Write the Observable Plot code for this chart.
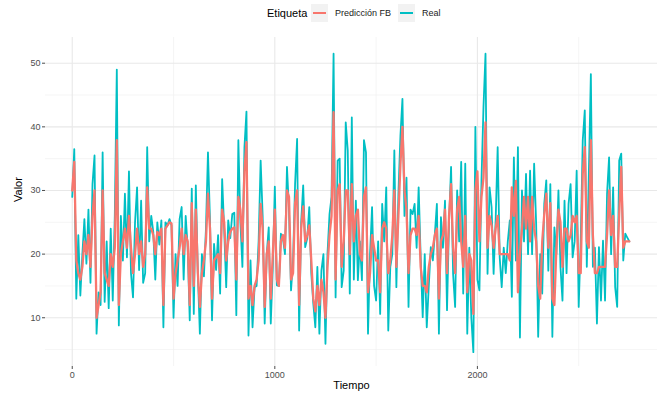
<!DOCTYPE html>
<html><head><meta charset="utf-8">
<script src="https://cdn.jsdelivr.net/npm/d3@7"></script>
<script src="https://cdn.jsdelivr.net/npm/@observablehq/plot@0.6"></script>
<style>
body{margin:0;background:#fff;font-family:"Liberation Sans",Arial,sans-serif;}
#legend{position:relative;height:26px;width:665px;}
#legend .t{position:absolute;top:0;height:26px;line-height:26px;white-space:nowrap;}
#legend .key{position:absolute;top:4px;width:17px;height:18px;background:#f2f2f2;}
#legend .key i{position:absolute;left:2px;top:8px;width:13px;height:1.6px;}
</style></head><body>
<div id="legend"></div>
<div id="chart"></div>
<script>
const series = ["Predicción FB", "Real"];
const colores = ["#F8766D", "#00BFC4"];
const ticksX = [0, 1000, 2000];
const minorX = [500, 1500, 2500];
const ticksY = [10, 20, 30, 40, 50];
const minorY = [5, 15, 25, 35, 45];
const paso = 10;
const tiempo = d3.range(0, 2751, paso);

const valorReal = [
29, 36.5, 13, 23, 13.5, 20, 25.5, 18.5, 27, 15.5,
31, 35.5, 7.5, 14, 12, 36, 12.5, 22, 11.5, 24,
12.7, 26, 49, 8.8, 26, 19, 29.5, 19.5, 33, 17,
13.2, 25, 30.5, 17.5, 28.4, 15.5, 17, 36.8, 22, 26,
23.5, 16, 25, 21.5, 25.3, 8.5, 25, 24.5, 25.5, 24.5,
10, 20, 15, 25.5, 27.4, 16, 26, 21, 9.6, 30.3,
10.6, 30.8, 17, 7.5, 20, 16.5, 24, 36, 25.3, 9.6,
21.6, 17.5, 23, 13.8, 31.8, 24, 14.8, 25.3, 22.5, 26.3,
26.5, 10.4, 37.9, 25, 18, 36.8, 42.4, 7.2, 19, 8.5,
14.8, 15, 22, 34.7, 26, 9.1, 20, 24.2, 9.1, 18,
30.6, 15.1, 15, 23.2, 22.5, 20, 33.7, 27, 14.3, 19,
31, 38.1, 8, 25, 30.8, 21.1, 22.5, 27.4, 17, 12.2,
8.5, 18, 7.5, 17.4, 20, 5.9, 20.1, 26.3, 29, 51.5,
13.2, 34.7, 35, 14.8, 17.4, 40.7, 36.3, 13.8, 41.5, 16,
28.4, 15.9, 22, 15.9, 37.9, 36, 7.5, 20, 27.4, 15,
12.7, 22, 10.6, 27.9, 22, 30.5, 8, 18, 20, 36.3,
14.8, 29.5, 38.6, 44.4, 26, 32, 11.7, 27, 26.3, 27.9,
21, 30.5, 19.5, 10.1, 20, 8.5, 15, 21.1, 19, 23.2,
27.9, 7.5, 25.8, 21, 28.4, 11.2, 25, 33.7, 16.9, 11.7,
30, 22, 34.5, 13.8, 34.2, 7.5, 21, 10, 4.6, 40,
16, 14.3, 31.5, 43.1, 51.5, 16.9, 30.5, 27.4, 16.9, 25.3,
36.8, 19.5, 14.8, 21, 17, 22, 25.3, 13.3, 35.2, 19,
36.8, 6.9, 30, 22, 32.6, 20, 33.1, 20, 34.2, 24.8,
7, 20, 13.8, 27.9, 31.6, 17.4, 31, 7, 24.2, 20,
30, 18, 12.7, 28.4, 17, 27.9, 31, 19.5, 22, 33.1,
11.7, 22, 37.9, 42.6, 18, 32.6, 48.3, 18, 21, 9.1,
21.1, 12.7, 22.1, 12.7, 29.5, 35.2, 20, 30.5, 14.8, 11.7,
34.7, 35.8, 19, 23.2, 22.6, 22
];

const valorPred = [
30, 34.5, 19, 17, 16, 18, 22, 20, 23, 18,
26, 30, 10, 12, 14, 30, 17, 16, 15, 20,
18, 21, 37.9, 12, 20, 22, 24, 21, 26, 21,
17, 20, 24, 20, 22, 18, 20, 30.5, 24, 24,
23, 20, 23.5, 23, 24, 12, 24, 24.5, 25, 24.8,
13, 17, 19, 21, 24, 20, 23, 22, 12, 28,
15, 27, 17, 11.7, 17, 19, 22, 29.5, 24, 13,
19, 19.5, 20, 17, 27, 25, 19, 22, 23.5, 24,
24.2, 16, 29, 27, 22, 33, 37.6, 13, 15, 12,
15, 16, 19, 27.9, 24, 11.7, 20, 22, 13, 20,
27, 16, 15, 22, 23, 21, 30, 29, 16, 17,
28, 30, 12, 24, 27.5, 22, 23, 24.5, 19, 13,
11, 15, 12, 16, 14, 10, 18, 23, 26, 42.3,
16, 30, 31, 18, 22, 30, 30, 20, 31, 22,
26, 27, 20, 19, 29, 30.5, 14, 17, 23, 21,
19, 19, 14, 24, 25, 24, 17, 19, 23, 30,
18, 26, 34, 40, 30, 27, 17, 23, 24, 24,
23, 26, 18, 15, 15, 14, 18, 20, 21, 23,
24, 13, 22, 23, 27, 17, 26, 31, 21, 17,
27, 29, 22, 18, 26, 14, 20, 19, 10.6, 30,
33, 22, 29, 32, 40.7, 21, 26, 24.5, 21, 24,
26, 20, 20, 20, 20, 20, 19, 30.5, 26, 31.5,
14, 20, 24, 29, 24, 29, 22, 29, 24, 22,
15, 13, 22, 26.3, 29.5, 21, 28, 13, 12, 21,
27, 25, 18, 24, 24, 22, 23, 26, 25, 26,
17, 17, 32.6, 36.8, 22, 21, 37.9, 23, 17, 17,
18, 18, 18, 18, 23, 30, 23, 26, 18, 18,
26.3, 33.7, 21, 22, 22, 22
];

const real = tiempo.map((t, i) => ({t, v: valorReal[i]}));
const pred = tiempo.map((t, i) => ({t, v: valorPred[i]}));

// Legend (HTML, above the SVG)
const lg = document.getElementById("legend");
lg.innerHTML =
  `<span class="t" style="left:267px;font-size:11px;color:#000">Etiqueta</span>` +
  `<span class="key" style="left:311px"><i style="background:${colores[0]}"></i></span>` +
  `<span class="t" style="left:335px;font-size:9px;color:#1a1a1a">${series[0]}</span>` +
  `<span class="key" style="left:398px"><i style="background:${colores[1]}"></i></span>` +
  `<span class="t" style="left:422px;font-size:9px;color:#1a1a1a">${series[1]}</span>`;

const chart = Plot.plot({
  width: 665,
  height: 373,
  marginTop: 11,
  marginBottom: 33,
  marginLeft: 45,
  marginRight: 8,
  style: {fontFamily: "Liberation Sans, Arial, sans-serif", fontSize: "9px", background: "#fff", color: "#4d4d4d"},
  x: {domain: [-132, 2889]},
  y: {domain: [2.34, 54.04]},
  marks: [
    Plot.ruleY(minorY, {stroke: "#f0f0f0", strokeWidth: 0.7}),
    Plot.ruleX(minorX, {stroke: "#f0f0f0", strokeWidth: 0.7}),
    Plot.ruleY(ticksY, {stroke: "#e8e8e8", strokeWidth: 1.1}),
    Plot.ruleX(ticksX, {stroke: "#e8e8e8", strokeWidth: 1.1}),
    Plot.axisX({ticks: ticksX, tickSize: 3, tickPadding: 2, label: null, color: "#4d4d4d", tickFormat: d => String(d)}),
    Plot.axisY({ticks: ticksY, tickSize: 3, tickPadding: 2, label: null, color: "#4d4d4d"}),
    Plot.line(real, {x: "t", y: "v", stroke: colores[1], strokeWidth: 1.8, strokeLinejoin: "round"}),
    Plot.line(pred, {x: "t", y: "v", stroke: colores[0], strokeWidth: 2.3, strokeLinejoin: "round"}),
    Plot.text(["Tiempo"], {text: d => d, frameAnchor: "bottom", dy: 22, fontSize: 11, fill: "#000"}),
    Plot.text(["Valor"], {text: d => d, frameAnchor: "left", dx: -27, rotate: -90, fontSize: 11, fill: "#000"})
  ]
});
document.getElementById("chart").appendChild(chart);
</script>
</body></html>
